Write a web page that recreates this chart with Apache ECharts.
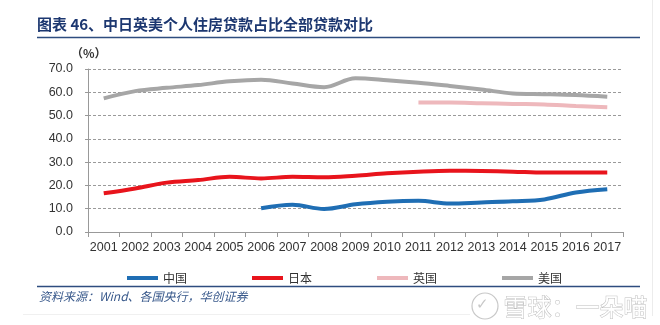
<!DOCTYPE html>
<html>
<head>
<meta charset="utf-8">
<script src="https://cdn.jsdelivr.net/npm/echarts@6/dist/echarts.min.js"></script>
<style>
  html, body { margin: 0; padding: 0; background: #fff; }
  #chart { width: 660px; height: 325px; }
</style>
</head>
<body>
<div id="chart"></div>
<script>
// Residential mortgage loans as a share of all loans (%), 2001–2017
const years = ['2001','2002','2003','2004','2005','2006','2007','2008','2009',
               '2010','2011','2012','2013','2014','2015','2016','2017'];
const china = [null, null, null, null, null, 10.2, 11.7, 9.9, 11.9,
               13.0, 13.4, 12.2, 12.7, 13.2, 14.0, 17.0, 18.4];
const japan = [16.6, 18.7, 21.2, 22.3, 23.7, 23.0, 23.7, 23.5, 24.2,
               25.2, 25.9, 26.3, 26.2, 25.9, 25.5, 25.6, 25.6];
const uk    = [null, null, null, null, null, null, null, null, null,
               null, 55.6, 55.6, 55.3, 55.0, 54.8, 54.1, 53.6];
const us    = [57.4, 60.5, 61.9, 63.1, 64.7, 65.4, 63.8, 62.2, 66.0,
               65.2, 64.1, 62.7, 61.2, 59.5, 59.2, 58.8, 58.1];
const seriesNames = ['中国', '日本', '英国', '美国'];
const yTicks = [0, 10, 20, 30, 40, 50, 60, 70];

const colors = ['#1F6EB4', '#E8141C', '#EEB8BC', '#A6A6A6'];
const cjk = '"Noto Sans CJK SC", sans-serif';
const latin = '"Liberation Sans", Arial, sans-serif';

const chart = echarts.init(document.getElementById('chart'), null, { renderer: 'canvas' });

function lineSeries(name, data, color) {
  return {
    name: name,
    type: 'line',
    data: data,
    smooth: 0.35,
    showSymbol: false,
    symbol: 'none',
    connectNulls: false,
    lineStyle: { color: color, width: 4 },
    itemStyle: { color: color },
    emphasis: { disabled: true }
  };
}

chart.setOption({
  animation: false,
  backgroundColor: '#ffffff',
  color: colors,
  grid: { left: 88, right: 37, top: 69, bottom: 93, outerBoundsMode: 'none' },
  legend: {
    data: seriesNames,
    left: 122,
    top: 267,
    icon: 'rect',
    itemWidth: 31,
    itemHeight: 4,
    itemGap: 65,
    textStyle: { fontFamily: cjk, fontSize: 12, color: '#333' }
  },
  xAxis: {
    type: 'category',
    data: years,
    boundaryGap: true,
    axisLine: { show: true, lineStyle: { color: '#999', width: 1 } },
    axisTick: { show: true, length: 5, lineStyle: { color: '#999' } },
    axisLabel: { interval: 0, margin: 9, fontFamily: latin, fontSize: 12.5, color: '#333' },
    splitLine: { show: false }
  },
  yAxis: {
    type: 'value',
    min: yTicks[0],
    max: yTicks[yTicks.length - 1],
    interval: 10,
    axisLine: { show: true, lineStyle: { color: '#999', width: 1 } },
    axisTick: { show: true, length: 3, lineStyle: { color: '#999' } },
    axisLabel: {
      margin: 15,
      fontFamily: latin,
      fontSize: 12.5,
      color: '#333',
      formatter: v => v.toFixed(1)
    },
    splitLine: { show: true, lineStyle: { color: '#9a9a9a', type: [3, 2], width: 1 } }
  },
  series: [
    lineSeries(seriesNames[0], china, colors[0]),
    lineSeries(seriesNames[1], japan, colors[1]),
    lineSeries(seriesNames[2], uk, colors[2]),
    lineSeries(seriesNames[3], us, colors[3])
  ],
  graphic: [
    // title
    { type: 'text', left: 37, top: 17,
      style: { text: '图表 46、中日英美个人住房贷款占比全部贷款对比',
               font: 'bold 15px ' + cjk, fill: '#1C3770' } },
    // rule under the title
    { type: 'line', shape: { x1: 37, y1: 37.5, x2: 640, y2: 37.5 },
      style: { stroke: '#2E4D7F', lineWidth: 1.5 } },
    // unit label
    { type: 'text', left: 71, top: 47,
      style: { text: '（%）', font: 'bold 12px ' + cjk, fill: '#333' } },
    // rule above the source note
    { type: 'line', shape: { x1: 37, y1: 286.5, x2: 640, y2: 286.5 },
      style: { stroke: '#2E4D7F', lineWidth: 1.5 } },
    // source note
    { type: 'text', left: 39, top: 290,
      style: { text: '资料来源：Wind、各国央行，华创证券',
               font: 'italic 12px ' + cjk, fill: '#3A5A8C' } },
    // faint page edges
    { type: 'line', shape: { x1: 652.5, y1: 0, x2: 652.5, y2: 316 },
      style: { stroke: '#ececec', lineWidth: 1 } },
    { type: 'line', shape: { x1: 23, y1: 314.5, x2: 470, y2: 314.5 },
      style: { stroke: '#f0f0f0', lineWidth: 1 } },
    // watermark
    { type: 'circle', shape: { cx: 485, cy: 306, r: 13 },
      style: { fill: 'none', stroke: '#c8c8c8', lineWidth: 1.2 } },
    { type: 'text', left: 476, top: 297,
      style: { text: '✓', font: '15px ' + latin, fill: '#c8c8c8' } },
    { type: 'text', left: 503, top: 294,
      style: { text: '雪球：一朵喵', font: '24px ' + cjk, fill: '#ffffff',
               stroke: '#bdbdbd', lineWidth: 1 } }
  ]
});
</script>
</body>
</html>
